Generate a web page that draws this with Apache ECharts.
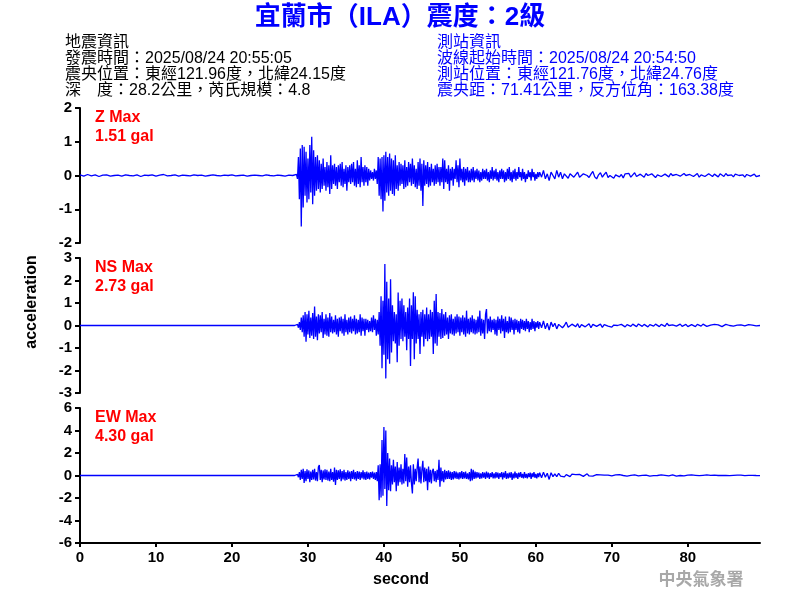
<!DOCTYPE html>
<html><head><meta charset="utf-8">
<script src="https://cdn.jsdelivr.net/npm/echarts@6/dist/echarts.min.js"></script>
<style>html,body{margin:0;padding:0;background:#fff}#c{width:800px;height:600px}</style>
</head><body><div id="c"></div>
<script>
// ---------- data (gal) ----------
const xTickLabels = [0,10,20,30,40,50,60,70,80];
const panelNames = ['Z Max','NS Max','EW Max'];
const panelMax = ['1.51 gal','2.73 gal','4.30 gal'];

// sample clocks of each record segment (seconds)
const preStartZ = 0, preStepZ = 0.5;
const preStartH = 0, preStepH = 28.25;
const activeStart = 28.5, activeStep = 0.125;
const tailStart = 60.5, tailStep = 0.25;

const zPre = [
0.02,-0.02,0.03,-0.01,0.02,-0.03,0.01,0.02,
-0.02,0.0,0.01,-0.02,0.02,0.0,-0.01,0.02,
-0.03,0.01,0.0,0.02,-0.02,0.01,0.03,-0.01,
0.0,0.02,-0.02,0.01,0.0,-0.01,0.02,0.0,
0.01,-0.02,0.0,0.02,0.0,-0.01,0.01,0.0,
0.02,-0.01,0.0,0.01,-0.02,0.0,0.01,0.0,
-0.01,0.02,0.0,-0.01,0.01,0.0,-0.02,0.01,0.0];
const zActive = [
0.03,-0.1,0.55,-0.7,0.8,-1.51,0.9,-0.95,
0.85,-0.6,0.7,-0.8,0.5,-0.7,0.9,-0.5,
1.15,-0.85,0.75,-0.6,0.55,-0.45,0.6,-0.4,
0.45,-0.5,0.35,-0.4,0.5,-0.3,0.25,-0.45,
0.4,-0.35,0.3,-0.55,0.6,-0.4,0.3,-0.25,
0.35,-0.3,0.25,-0.4,0.3,-0.2,0.35,-0.3,
0.4,-0.35,0.2,-0.25,0.3,-0.45,0.25,-0.2,
0.3,-0.25,0.35,-0.2,0.4,-0.3,0.2,-0.35,
0.45,-0.25,0.3,-0.35,0.55,-0.2,0.25,-0.3,
0.3,-0.2,0.25,-0.3,0.2,-0.15,0.15,-0.1,
0.1,-0.15,0.2,-0.1,0.15,-0.25,0.55,-0.6,
0.5,-0.7,0.55,-1.07,0.6,-0.75,0.7,-0.5,
0.55,-0.6,0.65,-0.45,0.5,-0.55,0.45,-0.6,
0.6,-0.4,0.3,-0.45,0.4,-0.3,0.35,-0.25,
0.3,-0.4,0.45,-0.35,0.25,-0.3,0.4,-0.2,
0.35,-0.3,0.5,-0.25,0.3,-0.35,0.2,-0.4,
0.4,-0.3,0.5,-0.45,0.35,-0.9,0.45,-0.3,
0.3,-0.25,0.4,-0.35,0.25,-0.3,0.35,-0.2,
0.2,-0.3,0.3,-0.25,0.35,-0.2,0.25,-0.3,
0.25,-0.2,0.5,-0.4,0.45,-0.2,0.2,-0.25,
0.3,-0.45,0.2,-0.15,0.25,-0.3,0.2,-0.1,
0.45,-0.2,0.3,-0.35,0.5,-0.15,0.2,-0.2,
0.25,-0.3,0.2,-0.15,0.25,-0.2,0.15,-0.2,
0.2,-0.15,0.25,-0.2,0.15,-0.1,0.2,-0.15,
0.15,-0.2,0.1,-0.15,0.2,-0.1,0.15,-0.1,
0.2,-0.15,0.1,-0.2,0.15,-0.1,0.25,-0.15,
0.15,-0.1,0.2,-0.15,0.1,-0.2,0.15,-0.1,
0.2,-0.1,0.15,-0.2,0.1,-0.15,0.2,-0.1,
0.25,-0.15,0.1,-0.2,0.15,-0.1,0.2,-0.15,
0.1,-0.1,0.25,-0.05,0.1,-0.15,0.2,-0.1,
0.1,-0.2,0.05,-0.1,0.15,-0.05,0.1,-0.15,
0.2,-0.05,0.1,-0.15,0.05,-0.1,0.1,-0.05];
const zTail = [
0.1,-0.05,0.15,-0.1,0.05,-0.15,0.1,0.0,
-0.1,0.15,-0.05,0.1,-0.1,0.05,0.0,-0.08,
0.05,0.08,-0.05,0.0,0.1,-0.05,-0.08,0.05,
0.1,0.0,-0.06,0.04,0.12,-0.04,-0.1,0.02,
0.08,-0.05,0.03,0.1,-0.06,0.0,0.05,-0.08,
0.02,0.07,-0.04,0.03,-0.07,0.05,0.0,0.06,
-0.05,0.02,0.08,-0.03,-0.06,0.04,0.02,-0.05,
0.06,0.0,-0.04,0.05,0.03,-0.06,0.02,0.07,
-0.03,-0.05,0.04,0.02,-0.04,0.06,0.0,-0.05,
0.03,0.05,-0.02,-0.05,0.06,0.0,-0.04,0.03,
0.05,-0.03,0.0,0.06,-0.05,0.02,0.04,-0.03,
-0.05,0.05,0.02,-0.03,0.04,0.0,-0.04,0.05,
0.02,-0.03,0.06,0.0,-0.02,0.02,-0.04,0.04,
0.06,0.0,-0.03,0.02,-0.05,0.03,0.05,-0.02,
0.0,0.04,-0.03,0.02,0.0];

const nsPre = [0, 0];
const nsActive = [
0.0,0.05,-0.1,0.15,-0.2,0.35,-0.3,0.45,
-0.5,0.6,-0.72,0.5,-0.4,0.65,-0.55,0.35,
-0.45,0.55,-0.6,0.84,-0.5,0.4,-0.65,0.5,
-0.35,0.45,-0.3,0.6,-0.55,0.3,-0.4,0.5,
-0.45,0.35,-0.5,0.55,-0.3,0.4,-0.35,0.25,
-0.3,0.45,-0.4,0.3,-0.5,0.35,-0.25,0.4,
-0.35,0.3,-0.45,0.5,-0.3,0.25,-0.4,0.35,
-0.3,0.4,-0.35,0.3,-0.25,0.45,-0.4,0.3,
-0.35,0.25,-0.3,0.5,-0.45,0.35,-0.25,0.3,
-0.45,0.3,-0.2,0.25,-0.3,0.2,-0.25,0.35,
-0.3,0.45,-0.2,0.3,-0.45,0.25,-0.4,0.6,
-0.9,1.3,-1.9,1.1,-1.3,2.73,-2.35,1.94,
-1.5,1.2,-1.7,2.06,-1.2,0.9,-0.7,0.6,
-0.8,0.5,-1.63,1.47,-0.9,1.1,-0.6,1.2,
-0.7,0.9,-0.5,0.6,-1.1,0.8,-0.6,1.2,
-1.8,0.9,-0.6,1.48,-1.5,1.3,-0.8,0.7,
-0.6,0.5,-1.27,0.6,-0.5,0.7,-0.93,0.5,
-0.6,0.8,-0.7,0.5,-0.6,0.7,-0.5,0.6,
-1.27,1.1,-0.8,1.4,-0.9,0.6,-0.5,0.55,
-0.6,0.73,-0.55,0.5,-0.45,0.6,-0.4,0.35,
-0.6,0.45,-0.35,0.5,-0.4,0.3,-0.45,0.4,
-0.35,0.5,-0.3,0.4,-0.45,0.35,-0.3,0.45,
-0.4,0.35,-0.5,0.66,-0.35,0.3,-0.4,0.35,
-0.3,0.45,-0.35,0.3,-0.4,0.25,-0.35,0.4,
-0.3,0.66,-0.45,0.3,-0.35,0.25,-0.6,0.5,
0.73,-0.35,0.3,-0.25,0.4,-0.3,0.25,-0.2,
0.3,-0.4,0.25,-0.45,0.4,-0.2,0.3,-0.35,
0.45,-0.25,0.3,-0.55,0.4,-0.3,0.2,-0.35,
0.4,-0.3,0.35,-0.2,0.25,-0.4,0.3,-0.2,
0.25,-0.3,0.2,-0.35,0.3,-0.15,0.25,-0.2,
0.2,-0.25,0.3,-0.15,0.2,-0.3,0.15,-0.2,
0.3,-0.15,0.2,-0.25,0.15,-0.1,0.2,-0.15];
const nsTail = [
0.15,-0.1,0.2,-0.15,0.1,-0.2,0.15,-0.05,
0.1,-0.15,0.05,0.12,-0.1,0.0,0.15,-0.08,
-0.12,0.06,0.1,-0.05,0.08,-0.1,0.04,0.1,
-0.06,0.02,0.08,-0.1,0.05,0.12,-0.04,0.0,
0.06,-0.08,0.04,0.1,-0.03,0.05,-0.07,0.02,
0.06,0.0,-0.05,0.05,0.03,-0.06,0.04,0.02,
-0.04,0.06,0.0,-0.05,0.07,0.02,-0.04,0.05,
0.0,-0.06,0.04,0.03,-0.03,0.06,-0.02,-0.05,
0.05,0.02,-0.04,0.1,0.0,-0.05,0.03,0.05,
-0.03,0.0,0.06,-0.04,0.02,0.05,-0.05,0.03,
0.04,-0.02,-0.05,0.05,0.02,-0.03,0.06,0.0,
-0.04,0.04,0.02,-0.03,0.05,-0.02,0.03,0.04,
-0.05,0.02,0.05,-0.02,0.0,0.04,-0.03,0.05,
0.02,-0.04,0.03,0.06,-0.02,0.0,0.04,-0.03,
0.02,0.05,-0.02,0.03,0.0];

const ewPre = [0, 0];
const ewActive = [
0.0,0.1,-0.15,0.3,-0.4,0.5,-0.3,0.6,
-0.67,0.4,-0.5,0.55,-0.3,0.45,-0.6,0.35,
-0.4,0.5,-0.35,0.6,-0.45,0.3,-0.5,0.75,
0.93,-0.4,0.5,-0.6,0.45,-0.35,0.55,-0.4,
0.5,-0.45,0.35,-0.5,0.6,-0.4,0.3,-0.55,
0.7,-0.85,0.5,-0.4,0.45,-0.3,0.55,-0.5,
0.4,-0.35,0.5,-0.45,0.3,-0.4,0.45,-0.3,
0.35,-0.5,0.4,-0.3,0.5,-0.35,0.3,-0.45,
0.4,-0.3,0.35,-0.4,0.3,-0.25,0.45,-0.35,
0.3,-0.4,0.35,-0.3,0.25,-0.35,0.3,-0.2,
0.35,-0.3,0.25,-0.4,0.3,-0.5,0.9,-2.2,
1.0,-1.95,3.16,-1.8,4.30,-1.2,4.0,-2.7,
2.0,-1.3,1.5,-1.4,0.9,-0.8,1.4,-0.6,
0.8,-1.4,1.2,-0.9,0.7,-0.6,1.0,-0.8,
0.6,-0.7,1.9,-0.5,1.6,-1.0,0.8,-0.6,
0.9,-0.7,-1.6,1.0,-0.8,0.6,-0.5,0.7,
1.5,-0.6,0.8,-0.7,0.5,1.3,-0.6,0.7,
-0.5,0.6,-1.3,0.8,-0.6,0.5,-0.7,0.4,
0.6,-0.5,0.4,-0.6,0.5,-0.4,1.4,-1.0,
0.7,-0.5,0.4,-0.6,0.5,-0.35,0.4,-0.3,
0.45,-0.3,0.35,-0.4,0.3,-0.35,0.4,-0.25,
0.35,-0.3,0.25,-0.35,0.3,-0.25,0.4,-0.3,
0.3,-0.25,0.35,-0.3,0.2,-0.35,0.3,-0.5,
0.6,-0.45,0.5,-0.3,0.35,-0.25,0.3,-0.2,
0.25,-0.3,0.2,-0.25,0.3,-0.2,0.25,-0.3,
0.35,-0.2,0.25,-0.3,0.2,-0.15,0.3,-0.25,
0.2,-0.25,0.3,-0.2,0.25,-0.3,0.2,-0.15,
0.3,-0.35,0.25,-0.2,0.4,-0.3,0.2,-0.25,
0.25,-0.2,0.3,-0.4,0.2,-0.25,0.35,-0.2,
0.2,-0.3,0.25,-0.15,0.3,-0.2,0.15,-0.25,
0.3,-0.2,0.15,-0.25,0.2,-0.15,0.25,-0.3,
0.2,-0.15,0.3,-0.2,0.15,-0.25,0.2,-0.15];
const ewTail = [
0.25,-0.2,0.3,-0.15,0.2,-0.35,0.25,-0.1,
0.15,-0.1,0.2,-0.05,0.1,-0.12,0.08,0.0,
-0.1,0.12,-0.05,0.08,-0.06,0.1,0.0,-0.08,
0.05,0.15,-0.04,0.06,-0.05,0.03,0.08,-0.04,
0.06,-0.02,0.04,-0.05,0.03,0.06,-0.04,0.02,
0.05,-0.03,0.08,-0.04,0.0,0.06,-0.05,0.03,
0.02,-0.04,0.06,0.0,-0.03,0.05,0.02,-0.04,
0.04,0.02,-0.05,0.05,-0.02,0.03,0.0,-0.04,
0.05,-0.02,0.02,0.04,-0.03,0.02,0.06,-0.02,
-0.06,0.03,0.0,0.05,-0.03,0.02,0.04,0.0,
0.05,-0.03,0.02,0.03,-0.02,0.04,0.02,-0.03,
0.05,0.0,0.02,-0.02,0.03,0.04,0.0,-0.03,
0.02,0.04,0.0,0.02,-0.02,0.03,0.02,0.0,
0.04,-0.02,0.03,0.02,-0.01,0.04,0.02,0.0,
0.02,0.04,0.0,0.03,-0.01];

// ---------- build [time, value] pairs from the sample clocks ----------
function seg(start, step, vals){ return vals.map((v,i)=>[+(start+i*step).toFixed(4), v]); }
const zData  = seg(preStartZ,preStepZ,zPre).concat(seg(activeStart,activeStep,zActive), seg(tailStart,tailStep,zTail));
const nsData = seg(preStartH,preStepH,nsPre).concat(seg(activeStart,activeStep,nsActive), seg(tailStart,tailStep,nsTail));
const ewData = seg(preStartH,preStepH,ewPre).concat(seg(activeStart,activeStep,ewActive), seg(tailStart,tailStep,ewTail));

const FONT = "'Liberation Sans', Arial, 'Noto Sans CJK TC', sans-serif";
const CJK = "'Liberation Sans', 'Noto Sans CJK TC', sans-serif";
const chart = echarts.init(document.getElementById('c'), null, {renderer:'canvas'});

const grids = [
  {left:80, top:108, width:680, height:135},
  {left:80, top:258, width:680, height:135},
  {left:80, top:408, width:680, height:135}
];
const yRanges = [[-2,2,1],[-3,3,1],[-6,6,2]];
function xAxis(i){
  return {type:'value', gridIndex:i, min:0, max:89.5, interval:10, show: i===2,
    axisLine:{show:true, onZero:false, lineStyle:{color:'#000', width:2}},
    axisTick:{show:true, length:4, lineStyle:{color:'#000', width:2},
      customValues: xTickLabels},
    axisLabel:{color:'#000', fontWeight:'bold', fontSize:15, fontFamily:FONT, margin:7,
      customValues: xTickLabels},
    splitLine:{show:false}};
}
function yAxis(i){
  const r = yRanges[i];
  return {type:'value', gridIndex:i, min:r[0], max:r[1], interval:r[2],
    axisLine:{show:true, onZero:false, lineStyle:{color:'#000', width:2}},
    axisTick:{show:true, length:5, lineStyle:{color:'#000', width:2}},
    axisLabel:{color:'#000', fontWeight:'bold', fontSize:15, fontFamily:FONT, margin:8},
    splitLine:{show:false}};
}
function ser(i, data){
  return {type:'line', xAxisIndex:i, yAxisIndex:i, data:data, symbol:'none', showSymbol:false,
    lineStyle:{color:'#0000ff', width:1.3}, itemStyle:{color:'#0000ff'}, sampling:null, animation:false, silent:true};
}
function txt(text, x, y, o){
  return Object.assign({type:'text', x:x, y:y, silent:true,
    style:Object.assign({text:text, fill:'#000', fontSize:16, fontFamily:CJK, align:'left', verticalAlign:'middle'}, o||{})});
}
const leftInfo = ['地震資訊','發震時間：2025/08/24 20:55:05','震央位置：東經121.96度，北緯24.15度','深　度：28.2公里，芮氏規模：4.8'];
const rightInfo = ['測站資訊','波線起始時間：2025/08/24 20:54:50','測站位置：東經121.76度，北緯24.76度','震央距：71.41公里，反方位角：163.38度'];
const graphics = [];
graphics.push(txt('宜蘭市（ILA）震度：2級', 400, 18, {fill:'#0000ff', fontSize:26, fontWeight:'bold', align:'center'}));
leftInfo.forEach((t,i)=>graphics.push(txt(t, 65, 43+16*i)));
rightInfo.forEach((t,i)=>graphics.push(txt(t, 437, 43+16*i, {fill:'#0000ff'})));
[0,1,2].forEach(i=>{
  graphics.push(txt(panelNames[i], 95, 118+150*i, {fill:'#ff0000', fontWeight:'bold', fontFamily:FONT}));
  graphics.push(txt(panelMax[i], 95, 137+150*i, {fill:'#ff0000', fontWeight:'bold', fontFamily:FONT}));
});
graphics.push({type:'text', x:32, y:302, rotation:Math.PI/2, silent:true,
  style:{text:'acceleration', fill:'#000', fontSize:16, fontWeight:'bold', fontFamily:FONT, align:'center', verticalAlign:'middle'}});
graphics.push(txt('second', 401, 580, {fontWeight:'bold', fontFamily:FONT, align:'center'}));
graphics.push(txt('中央氣象署', 701, 580, {fill:'#a8a8a8', fontSize:17, fontWeight:'bold', align:'center'}));

chart.setOption({
  animation:false,
  backgroundColor:'#ffffff',
  grid: grids,
  xAxis: [xAxis(0), xAxis(1), xAxis(2)],
  yAxis: [yAxis(0), yAxis(1), yAxis(2)],
  series: [ser(0,zData), ser(1,nsData), ser(2,ewData)],
  graphic: graphics
});
</script></body></html>
